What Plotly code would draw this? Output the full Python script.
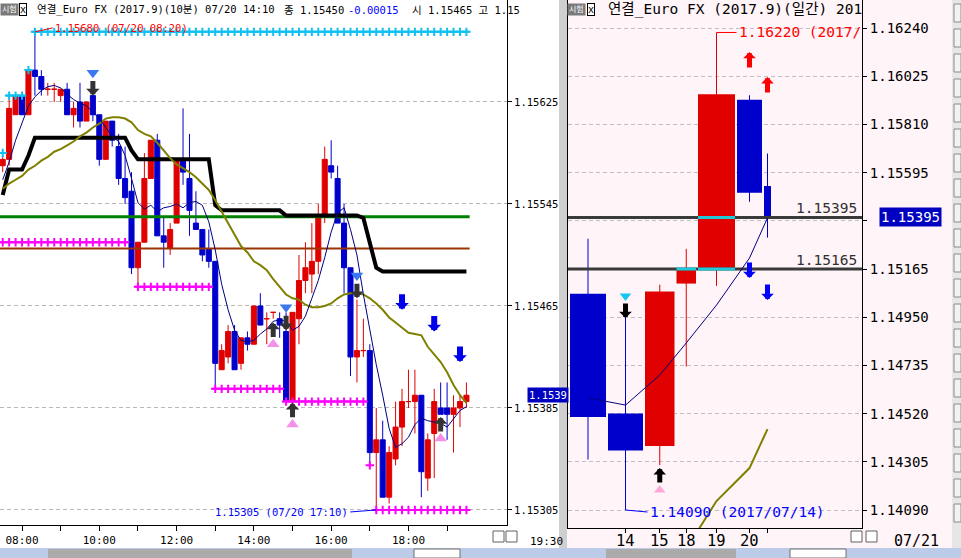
import plotly.graph_objects as go

W, H = 961, 558

# ================= Left panel: Euro FX (2017.9) 10-minute bars, 07/20 =================
bar_no = list(range(-3, 70))  # 10-minute bar number, 0 = 08:00 ... 69 = 19:30

open_10m = [1.15575, 1.15580, 1.15615, 1.15630, 1.15615, 1.15650, 1.15645, 1.15635, 1.15635, 1.15630,
            1.15635, 1.15615, 1.15625, 1.15610, 1.15630, 1.15615, 1.15580, 1.15610, 1.15590, 1.15565,
            1.15555, 1.15495, 1.15515, 1.15565, 1.15595, 1.15520, 1.15510, 1.15530, 1.15580, 1.15565,
            1.15530, 1.15525, 1.15510, 1.15500, 1.15415, 1.15425, 1.15445, 1.15420, 1.15440, 1.15435,
            1.15465, 1.15455, 1.15460, 1.15455, 1.15445, 1.15390, 1.15455, 1.15485, 1.15490, 1.15500,
            1.15535, 1.15575, 1.15565, 1.15530, 1.15495, 1.15425, 1.15430, 1.15430, 1.15350, 1.15360,
            1.15315, 1.15345, 1.15370, 1.15390, 1.15390, 1.15395, 1.15330, 1.15365, 1.15385, 1.15385,
            1.15380, 1.15385, 1.15390]
high_10m = [1.15585, 1.15630, 1.15630, 1.15630, 1.15650, 1.15680, 1.15650, 1.15640, 1.15640, 1.15635,
            1.15640, 1.15625, 1.15640, 1.15625, 1.15630, 1.15615, 1.15610, 1.15610, 1.15600, 1.15590,
            1.15570, 1.15515, 1.15585, 1.15595, 1.15600, 1.15535, 1.15530, 1.15580, 1.15620, 1.15600,
            1.15555, 1.15525, 1.15525, 1.15500, 1.15435, 1.15450, 1.15450, 1.15440, 1.15445, 1.15465,
            1.15475, 1.15460, 1.15460, 1.15460, 1.15460, 1.15460, 1.15505, 1.15515, 1.15530, 1.15545,
            1.15590, 1.15595, 1.15575, 1.15545, 1.15495, 1.15470, 1.15455, 1.15435, 1.15385, 1.15375,
            1.15355, 1.15390, 1.15400, 1.15415, 1.15415, 1.15395, 1.15365, 1.15400, 1.15405, 1.15405,
            1.15395, 1.15395, 1.15405]
low_10m = [1.15570, 1.15575, 1.15615, 1.15615, 1.15615, 1.15630, 1.15630, 1.15630, 1.15625, 1.15625,
           1.15615, 1.15605, 1.15605, 1.15610, 1.15610, 1.15575, 1.15580, 1.15590, 1.15560, 1.15545,
           1.15490, 1.15480, 1.15515, 1.15565, 1.15520, 1.15495, 1.15505, 1.15530, 1.15560, 1.15520,
           1.15525, 1.15500, 1.15495, 1.15400, 1.15415, 1.15420, 1.15415, 1.15415, 1.15430, 1.15435,
           1.15450, 1.15435, 1.15455, 1.15440, 1.15390, 1.15390, 1.15435, 1.15475, 1.15475, 1.15490,
           1.15530, 1.15565, 1.15530, 1.15475, 1.15410, 1.15405, 1.15425, 1.15340, 1.15305, 1.15315,
           1.15310, 1.15340, 1.15355, 1.15385, 1.15365, 1.15315, 1.15320, 1.15330, 1.15380, 1.15360,
           1.15350, 1.15370, 1.15385]
close_10m = [1.15580, 1.15620, 1.15630, 1.15615, 1.15650, 1.15645, 1.15635, 1.15635, 1.15635, 1.15635,
             1.15615, 1.15620, 1.15610, 1.15625, 1.15615, 1.15580, 1.15610, 1.15595, 1.15565, 1.15550,
             1.15495, 1.15515, 1.15565, 1.15595, 1.15520, 1.15515, 1.15525, 1.15580, 1.15570, 1.15540,
             1.15525, 1.15505, 1.15500, 1.15420, 1.15430, 1.15445, 1.15415, 1.15440, 1.15435, 1.15465,
             1.15450, 1.15455, 1.15460, 1.15450, 1.15390, 1.15460, 1.15485, 1.15495, 1.15500, 1.15535,
             1.15580, 1.15570, 1.15530, 1.15495, 1.15425, 1.15430, 1.15430, 1.15350, 1.15360, 1.15315,
             1.15350, 1.15370, 1.15390, 1.15390, 1.15395, 1.15335, 1.15360, 1.15390, 1.15380, 1.15380,
             1.15385, 1.15390, 1.15395]
ma_short_10m = [1.15564, 1.15578, 1.15595, 1.15609, 1.15622, 1.15629, 1.15634, 1.15637, 1.15638, 1.15636,
                1.15631, 1.15627, 1.15624, 1.15622, 1.15617, 1.15612, 1.15605, 1.15598, 1.15594, 1.15583,
                1.15565, 1.15546, 1.15541, 1.15544, 1.15539, 1.15542, 1.15543, 1.15545, 1.15542, 1.15546,
                1.15547, 1.15544, 1.15531, 1.15509, 1.15482, 1.15462, 1.15446, 1.15438, 1.15437, 1.15438,
                1.15443, 1.15447, 1.15453, 1.15454, 1.15453, 1.15446, 1.15449, 1.15457, 1.15471, 1.15485,
                1.15503, 1.15523, 1.15538, 1.15542, 1.15525, 1.15505, 1.15474, 1.15446, 1.15419, 1.15395,
                1.15369, 1.15354, 1.15357, 1.15362, 1.15372, 1.15377, 1.15375, 1.15374, 1.15373, 1.15370,
                1.15377, 1.15383, 1.15386]
ma_long_10m = [1.15557, 1.15561, 1.15564, 1.15567, 1.15572, 1.15575, 1.15579, 1.15582, 1.15586, 1.15588,
               1.15591, 1.15594, 1.15598, 1.15601, 1.15605, 1.15608, 1.15612, 1.15613, 1.15613, 1.15612,
               1.15609, 1.15603, 1.15600, 1.15598, 1.15593, 1.15587, 1.15581, 1.15576, 1.15573, 1.15570,
               1.15566, 1.15561, 1.15556, 1.15548, 1.15539, 1.15531, 1.15521, 1.15512, 1.15507, 1.15500,
               1.15497, 1.15493, 1.15486, 1.15480, 1.15474, 1.15471, 1.15470, 1.15466, 1.15464, 1.15464,
               1.15465, 1.15467, 1.15471, 1.15474, 1.15475, 1.15475, 1.15474, 1.15471, 1.15467, 1.15462,
               1.15456, 1.15452, 1.15448, 1.15444, 1.15443, 1.15442, 1.15433, 1.15427, 1.15421, 1.15413,
               1.15403, 1.15395, 1.15389]
midline_10m = [1.15552, 1.15572, 1.15572, 1.15572, 1.15583, 1.15597, 1.15597, 1.15597, 1.15597, 1.15597,
               1.15597, 1.15597, 1.15597, 1.15597, 1.15597, 1.15597, 1.15597, 1.15597, 1.15597, 1.15597,
               1.15587, 1.15580, 1.15580, 1.15580, 1.15580, 1.15580, 1.15580, 1.15580, 1.15580, 1.15580,
               1.15580, 1.15580, 1.15580, 1.15544, 1.15540, 1.15540, 1.15540, 1.15540, 1.15540, 1.15540,
               1.15540, 1.15540, 1.15540, 1.15540, 1.15536, 1.15536, 1.15536, 1.15536, 1.15536, 1.15536,
               1.15536, 1.15536, 1.15536, 1.15536, 1.15536, 1.15536, 1.15534, 1.15514, 1.15495, 1.15492,
               1.15492, 1.15492, 1.15492, 1.15492, 1.15492, 1.15492, 1.15492, 1.15492, 1.15492, 1.15492,
               1.15492, 1.15492, 1.15492]

level_green = 1.15535
level_brown = 1.15510
support_runs = [(-3, 16, 1.15515), (18, 29, 1.15480), (30, 40, 1.15400), (41, 53, 1.15390), (55, 69, 1.15305)]
support_points = [(54, 1.15340)]
resist_runs = [(-3, -3, 1.15585), (-2, 0, 1.15630), (1, 1, 1.15650), (2, 69, 1.15680)]

sell_bars = [11, 41, 52]
sell_arrow_price = [1.15630, 1.15446, 1.15471]
sell_mark_price = [1.15648, 1.15464, 1.15489]
buy_bars = [39, 42, 65]
buy_arrow_price = [1.15452, 1.15389, 1.15378]
buy_mark_price = [1.15435, 1.15372, 1.15361]
trend_bars = [59, 64, 68]
trend_arrow_price = [1.15462, 1.15445, 1.15421]

time_tick_bars = [0, 6, 12, 18, 24, 30, 36, 42, 48, 54, 60, 66]
time_tick_text = ["08:00", "", "10:00", "", "12:00", "", "14:00", "", "16:00", "", "18:00", ""]
left_price_ticks = [1.15625, 1.15545, 1.15465, 1.15385, 1.15305]
last_price = 1.15395
day_high_value, day_high_bar = 1.15680, 2
day_low_value, day_low_bar = 1.15305, 55

# ================= Right panel: daily bars (candle width = relative volume) =================
day_text = ["13", "14", "15", "18", "19", "20", "21"]
day_open = [1.15055, 1.14520, 1.14375, 1.15100, 1.15165, 1.15920, 1.15535]
day_high = [1.15300, 1.14950, 1.15095, 1.15255, 1.16220, 1.15940, 1.15680]
day_low = [1.14315, 1.14090, 1.14290, 1.14730, 1.15090, 1.15465, 1.15305]
day_close = [1.14505, 1.14355, 1.15065, 1.15165, 1.15945, 1.15505, 1.15395]
day_volume = [38, 37, 31.5, 21.5, 39, 27, 9]
day_ma_short = [1.14590, 1.14558, 1.14692, 1.14835, 1.15004, 1.15214, 1.15393]
day_ma_long = [None, None, None, 1.13916, 1.14130, 1.14277, 1.14451]
day_levels = [1.15395, 1.15165]
day_level_touch = [[4], [3, 4]]
right_price_ticks = [1.16240, 1.16025, 1.15810, 1.15595, 1.15380, 1.15165,
                     1.14950, 1.14735, 1.14520, 1.14305, 1.14090]
day_up_idx, day_up_price = [5, 6], [1.16133, 1.16021]
day_dn_idx, day_dn_price = [5, 6], [1.15125, 1.15027]
day_sell_idx, day_sell_price, day_sell_mark = [1], [1.14946], [1.15045]
day_buy_idx, day_buy_price, day_buy_mark = [2], [1.14277], [1.14179]

# ---------------------------------------------------------------------------
RED = "#E00000"
BLUE = "#0000CD"
LFONT = "DejaVu Sans Mono, Noto Sans CJK KR, monospace"
RFONT = "DejaVu Sans Mono, Noto Sans CJK KR, monospace"
LSIZE = 10.5
RSIZE = 14.5


def fx(p):
    return p / W


def fy(p):
    return 1 - p / H


fig = go.Figure()

# ---- left: horizontal levels
x_first, x_last = bar_no[0] - 0.5, bar_no[-1] + 0.5
fig.add_trace(go.Scatter(x=[x_first, x_last], y=[level_brown] * 2, mode="lines",
                         line=dict(color="#993300", width=2), xaxis="x", yaxis="y"))
fig.add_trace(go.Scatter(x=[x_first, x_last], y=[level_green] * 2, mode="lines",
                         line=dict(color="#008000", width=3), xaxis="x", yaxis="y"))


def runs_trace(runs):
    xs, ys, mx, my = [], [], [], []
    for s, e, p in runs:
        xs += [s - 0.5, e + 0.5, None]
        ys += [p, p, None]
        for b in range(s, e + 1):
            mx.append(b)
            my.append(p)
    return xs, ys, mx, my


for runs, color in [(support_runs, "#FF00FF"), (resist_runs, "#10C0F0")]:
    xs, ys, mx, my = runs_trace(runs)
    fig.add_trace(go.Scatter(x=xs, y=ys, mode="lines", line=dict(color=color, width=2),
                             xaxis="x", yaxis="y"))
    fig.add_trace(go.Scatter(x=mx, y=my, mode="markers",
                             marker=dict(symbol="cross-thin", size=6, line=dict(color=color, width=2)),
                             xaxis="x", yaxis="y"))
fig.add_trace(go.Scatter(x=[b for b, p in support_points], y=[p for b, p in support_points], mode="markers",
                         marker=dict(symbol="cross-thin", size=6, line=dict(color="#FF00FF", width=2)),
                         xaxis="x", yaxis="y"))

# ---- left: indicator lines
fig.add_trace(go.Scatter(x=bar_no, y=midline_10m, mode="lines", line=dict(color="#000000", width=4),
                         xaxis="x", yaxis="y"))
fig.add_trace(go.Scatter(x=bar_no, y=ma_long_10m, mode="lines", line=dict(color="#808000", width=2),
                         xaxis="x", yaxis="y"))

# ---- left: candles (red = close >= open, blue = close < open)
for is_up, color in [(True, RED), (False, BLUE)]:
    sel = [i for i in range(len(bar_no)) if (close_10m[i] >= open_10m[i]) == is_up]
    fig.add_trace(go.Candlestick(
        x=[bar_no[i] for i in sel], open=[open_10m[i] for i in sel], high=[high_10m[i] for i in sel],
        low=[low_10m[i] for i in sel], close=[close_10m[i] for i in sel],
        increasing=dict(line=dict(color=color, width=1), fillcolor=color),
        decreasing=dict(line=dict(color=color, width=1), fillcolor=color),
        whiskerwidth=0, xaxis="x", yaxis="y"))

fig.add_trace(go.Scatter(x=bar_no, y=ma_short_10m, mode="lines", line=dict(color="#000080", width=1),
                         xaxis="x", yaxis="y"))

# ---- left: signal triangles
fig.add_trace(go.Scatter(x=sell_bars, y=sell_mark_price, mode="markers",
                         marker=dict(symbol="triangle-down", size=11, color="#3C78F0"), xaxis="x", yaxis="y"))
fig.add_trace(go.Scatter(x=buy_bars, y=buy_mark_price, mode="markers",
                         marker=dict(symbol="triangle-up", size=11, color="#F590E8"), xaxis="x", yaxis="y"))

# ---- right: candles drawn as volume-width bars
edges = [0]
for v in day_volume:
    edges.append(edges[-1] + v)
day_x = [(edges[i] + edges[i + 1]) / 2 for i in range(len(day_volume))]
day_color = [RED if c >= o else BLUE for o, c in zip(day_open, day_close)]

for color in [RED, BLUE]:
    xs, ys = [], []
    for i in range(len(day_x)):
        if day_color[i] == color:
            xs += [day_x[i], day_x[i], None]
            ys += [day_low[i], day_high[i], None]
    fig.add_trace(go.Scatter(x=xs, y=ys, mode="lines", line=dict(color=color, width=1),
                             xaxis="x2", yaxis="y2"))
fig.add_trace(go.Bar(x=day_x, y=[abs(c - o) for o, c in zip(day_open, day_close)],
                     base=[min(o, c) for o, c in zip(day_open, day_close)],
                     width=[v - 2 for v in day_volume], marker=dict(color=day_color, line=dict(width=0)),
                     xaxis="x2", yaxis="y2"))

for lv, touch in zip(day_levels, day_level_touch):
    fig.add_trace(go.Scatter(x=[-1, edges[-1] + 100], y=[lv, lv], mode="lines",
                             line=dict(color="#3A3A3A", width=3), xaxis="x2", yaxis="y2"))
    xs, ys = [], []
    for i in touch:
        xs += [edges[i] + 1, edges[i + 1] - 1, None]
        ys += [lv, lv, None]
    fig.add_trace(go.Scatter(x=xs, y=ys, mode="lines", line=dict(color="#20C8D8", width=3),
                             xaxis="x2", yaxis="y2"))

fig.add_trace(go.Scatter(x=day_x, y=day_ma_short, mode="lines", line=dict(color="#000080", width=1),
                         xaxis="x2", yaxis="y2"))
fig.add_trace(go.Scatter(x=day_x, y=day_ma_long, mode="lines", line=dict(color="#808000", width=2),
                         xaxis="x2", yaxis="y2"))
fig.add_trace(go.Scatter(x=[day_x[i] for i in day_sell_idx], y=day_sell_mark, mode="markers",
                         marker=dict(symbol="triangle-down", size=10, color="#10C8F0"), xaxis="x2", yaxis="y2"))
fig.add_trace(go.Scatter(x=[day_x[i] for i in day_buy_idx], y=day_buy_mark, mode="markers",
                         marker=dict(symbol="triangle-up", size=10, color="#FFA8D8"), xaxis="x2", yaxis="y2"))

# ---------------------------------------------------------------------------
ann = []


def arrow(xr, yr, x, y, up, color, width, size, length):
    ann.append(dict(xref=xr, yref=yr, x=x, y=y, ax=0, ay=(length if up else -length),
                    text="", showarrow=True, arrowhead=1, arrowsize=size, arrowwidth=width,
                    arrowcolor=color, standoff=0))


for b, p in zip(sell_bars, sell_arrow_price):
    arrow("x", "y", b, p, False, "#333333", 5, 0.45, 16)
for b, p in zip(buy_bars, buy_arrow_price):
    arrow("x", "y", b, p, True, "#333333", 5, 0.45, 16)
for b, p in zip(trend_bars, trend_arrow_price):
    arrow("x", "y", b, p, False, "#0000EE", 6, 0.38, 17)
for i, p in zip(day_up_idx, day_up_price):
    arrow("x2", "y2", day_x[i], p, True, "#FF0000", 5, 0.42, 17)
for i, p in zip(day_dn_idx, day_dn_price):
    arrow("x2", "y2", day_x[i], p, False, "#0000FF", 5, 0.42, 17)
for i, p in zip(day_sell_idx, day_sell_price):
    arrow("x2", "y2", day_x[i], p, False, "#000000", 5, 0.42, 16)
for i, p in zip(day_buy_idx, day_buy_price):
    arrow("x2", "y2", day_x[i], p, True, "#000000", 5, 0.42, 16)


def text(x, y, s, color="#000000", size=LSIZE, family=LFONT, xanchor="left", **kw):
    d = dict(xref="paper", yref="paper", x=fx(x), y=fy(y), text=s, showarrow=False,
             font=dict(color=color, size=size, family=family), xanchor=xanchor, yanchor="middle")
    d.update(kw)
    ann.append(d)


# high / low labels (left)
ann.append(dict(xref="x", yref="y", x=day_high_bar, y=day_high_value, ax=18, ay=-4, xanchor="left",
                text=f"{day_high_value:.5f} (07/20 08:20)", showarrow=True, arrowhead=0, arrowwidth=1,
                arrowcolor="#FF0000", font=dict(color="#FF0000", size=LSIZE, family=LFONT)))
ann.append(dict(xref="x", yref="y", x=day_low_bar, y=day_low_value, ax=-26, ay=2, xanchor="right",
                text=f"{day_low_value:.5f} (07/20 17:10)", showarrow=True, arrowhead=0, arrowwidth=1,
                arrowcolor="#0000FF", font=dict(color="#0000FF", size=LSIZE, family=LFONT)))
# high / low labels (right)
ann.append(dict(xref="x2", yref="y2", x=day_x[4], y=max(day_high), ax=20, ay=0, xanchor="left",
                text=f"{max(day_high):.5f} (2017/", showarrow=True, arrowhead=0, arrowwidth=1,
                arrowcolor="#FF0000", font=dict(color="#FF0000", size=RSIZE, family=RFONT)))
ann.append(dict(xref="x2", yref="y2", x=day_x[1], y=min(day_low), ax=22, ay=2, xanchor="left",
                text=f"{min(day_low):.5f} (2017/07/14)", showarrow=True, arrowhead=0, arrowwidth=1,
                arrowcolor="#0000FF", font=dict(color="#0000FF", size=RSIZE, family=RFONT)))
for lv in day_levels:
    ann.append(dict(xref="paper", yref="y2", x=fx(859), y=lv, yshift=9, xanchor="right", yanchor="middle",
                    text=f"{lv:.5f}", showarrow=False, font=dict(color="#303030", size=RSIZE, family=RFONT)))

# daily date labels under the right panel
for i in range(1, len(day_x) - 1):
    ann.append(dict(xref="x2", yref="paper", x=day_x[i], y=fy(541), xanchor="center", yanchor="middle",
                    text=day_text[i], showarrow=False, font=dict(color="#000000", size=15.5, family=RFONT)))

# current price boxes
ann.append(dict(xref="paper", yref="y", x=fx(527), y=last_price, xanchor="left", yanchor="middle",
                text=f"{last_price:.5f}"[:-1], showarrow=False, bgcolor="#0000C0", borderpad=1,
                font=dict(color="#FFFFFF", size=LSIZE, family=LFONT)))
ann.append(dict(xref="paper", yref="y2", x=fx(879), y=last_price, xanchor="left", yanchor="middle",
                text=f"{last_price:.5f}", showarrow=False, bgcolor="#0000C0", borderpad=1,
                font=dict(color="#FFFFFF", size=14, family=RFONT)))

# titles
text(0, 10, "시험", color="#FFFFFF", size=8, bgcolor="#7A7A7A", borderpad=1)
text(19, 10, "x", size=10, bgcolor="#FFFFFF", bordercolor="#000000", borderwidth=1, borderpad=0)
text(35, 10, "연결_Euro FX (2017.9)(10분) 07/20 14:10")
text(282, 10, "종 1.15450")
text(346, 10, "-0.00015", color="#0000FF")
text(410, 10, "시 1.15465 고 1.15")
text(567, 10, "시험", color="#FFFFFF", size=8, bgcolor="#7A7A7A", borderpad=1)
text(587, 10, "x", size=10, bgcolor="#FFFFFF", bordercolor="#000000", borderwidth=1, borderpad=0)
text(606, 10, "연결_Euro FX (2017.9)(일간) 201", size=RSIZE, family=RFONT)

# bottom labels outside the axes
text(546, 541, "19:30", size=11, xanchor="center")
text(916, 541, "07/21", size=15, family=RFONT, xanchor="center")

# ---------------------------------------------------------------------------
shapes = []


def rect(x0, y0, x1, y1, fill, line=None, layer="above"):
    shapes.append(dict(type="rect", xref="paper", yref="paper", x0=fx(x0), x1=fx(x1), y0=fy(y1), y1=fy(y0),
                       fillcolor=fill, line=dict(color=line or fill, width=1 if line else 0), layer=layer))


rect(567, 0, 952, 548, "#FFF4F8", layer="below")
rect(559, 0, 567, 548, "#CFCFCF")
rect(952, 0, 961, 548, "#E6E6E6")
for k in range(21):
    rect(954, 4 + k * 25, 961, 22 + k * 25, "#F2F2F2", line="#8A8A8A")
rect(0, 548, 961, 558, "#BCCBE8")
rect(48, 549, 352, 558, "#ABABAB")
rect(606, 549, 736, 558, "#ABABAB")
rect(414, 549, 460, 558, "#FFFFFF", line="#707070")
rect(790, 549, 846, 558, "#FFFFFF", line="#707070")
for x0 in (493, 506, 851, 866):
    rect(x0, 531, x0 + 11, 542, "#FFFFFF", line="#606060")

fig.update_layout(
    width=W, height=H, margin=dict(l=0, r=0, t=0, b=0),
    paper_bgcolor="#FFFFFF", plot_bgcolor="rgba(0,0,0,0)",
    showlegend=False, hovermode=False, dragmode=False,
    boxgap=0.2, boxgroupgap=0.02,
    annotations=ann, shapes=shapes,
    xaxis=dict(domain=[0, fx(507)], range=[-3.42, 75.3], anchor="y",
               showline=True, linecolor="#000000", linewidth=1, mirror=False,
               ticks="outside", ticklen=5, tickcolor="#000000",
               tickvals=time_tick_bars, ticktext=time_tick_text,
               tickfont=dict(family=LFONT, size=11, color="#000000"),
               showgrid=False, zeroline=False, rangeslider=dict(visible=False), fixedrange=True),
    yaxis=dict(domain=[33 / H, 1], range=[1.152932, 1.15705], anchor="x", side="right",
               showline=True, linecolor="#000000", linewidth=1,
               ticks="outside", ticklen=4, tickcolor="#000000",
               tickvals=left_price_ticks, ticktext=[f"{v:.5f}" for v in left_price_ticks],
               tickfont=dict(family=LFONT, size=LSIZE, color="#000000"),
               showgrid=True, gridcolor="#B8B8B8", griddash="4px,3px", gridwidth=1,
               zeroline=False, fixedrange=True),
    xaxis2=dict(domain=[fx(568), fx(862)], range=[-1, 293], anchor="y2",
                showline=True, linecolor="#000000", linewidth=1,
                ticks="outside", ticklen=4, tickcolor="#000000",
                tickvals=day_x[1:], ticktext=[""] * (len(day_x) - 1),
                showgrid=False, zeroline=False, fixedrange=True),
    yaxis2=dict(domain=[30 / H, 1], range=[1.140097, 1.163649], anchor="x2", side="right",
                showline=True, mirror=True, linecolor="#000000", linewidth=1,
                ticks="outside", ticklen=4, tickcolor="#000000",
                tickvals=right_price_ticks,
                ticktext=["" if abs(v - last_price) < 0.0002 else f"{v:.5f}" for v in right_price_ticks],
                tickfont=dict(family=RFONT, size=14, color="#000000"),
                showgrid=True, gridcolor="#C0C0C0", griddash="4px,3px", gridwidth=1,
                zeroline=False, fixedrange=True),
)

fig.write_html("out.html", config={"displayModeBar": False},
               post_script="document.body.style.margin='0px';")
